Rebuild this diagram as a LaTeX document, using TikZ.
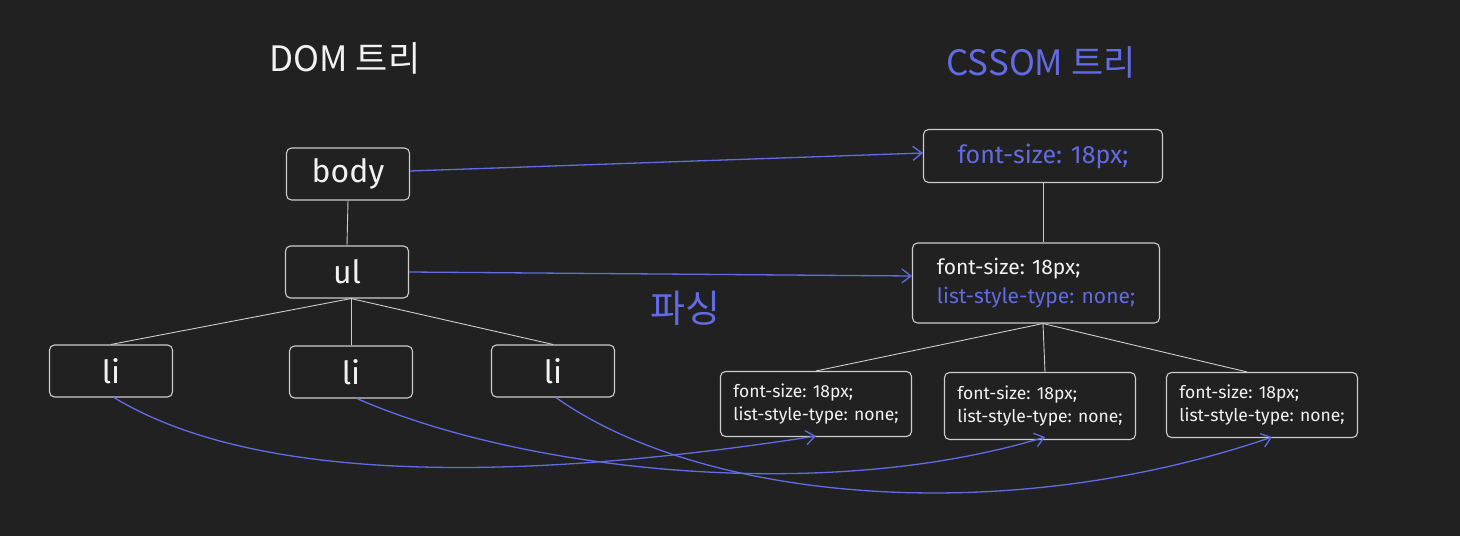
\documentclass[tikz,border=0pt]{standalone}
\usepackage{fontspec}
\setmainfont{Fira Sans}
\newfontfamily\kr{Noto Sans CJK KR}
\usetikzlibrary{arrows.meta}
\definecolor{bg}{RGB}{33,33,33}
\definecolor{ink}{RGB}{242,242,242}
\definecolor{edge}{RGB}{205,205,205}
\definecolor{accent}{RGB}{98,106,228}
\begin{document}
\begin{tikzpicture}[x=1pt,y=-1pt,
  box/.style={draw=edge, line width=1.1pt, rounded corners=5pt, fill=bg, inner sep=0pt, text=ink},
  domnode/.style={box, minimum width=123pt, minimum height=52pt, font=\fontsize{32}{34}\selectfont},
  cssmid/.style={box, align=left, font=\fontsize{21}{29}\selectfont},
  csssmall/.style={box, align=left, minimum width=191pt, minimum height=65pt, font=\fontsize{17.5}{23}\selectfont},
  tree/.style={draw=edge, line width=0.9pt},
  arr/.style={draw=accent, line width=1.3pt, -{Straight Barb[length=9pt,width=14pt]}},
  title/.style={font=\kr\fontsize{35}{37}\selectfont}
]
\useasboundingbox (0,0) rectangle (1460,536);
\fill[bg] (0,0) rectangle (1460,536);

% titles
\node[title, text=ink] (domt) at (345,58) {DOM 트리};
\node[title, text=accent] (csst) at (1041,62) {CSSOM 트리};
\node[font=\kr\fontsize{38}{40}\selectfont, text=accent] (parse) at (685,308) {파싱};

% DOM tree
\node[domnode] (body) at (348,174) {body};
\node[domnode] (ul) at (347,272) {ul};
\node[domnode] (li1) at (111,371) {li};
\node[domnode] (li2) at (351,372) {li};
\node[domnode] (li3) at (553,371) {li};

\draw[tree] (body.south) -- (ul.north);
\draw[tree] ([xshift=4pt]ul.south) -- (li1.north);
\draw[tree] ([xshift=4pt]ul.south) -- (li2.north);
\draw[tree] ([xshift=4pt]ul.south) -- (li3.north);

% CSSOM tree
\node[box, minimum width=239pt, minimum height=53pt, font=\fontsize{25}{27}\selectfont, text=accent] (css1) at (1043,156) {font-size: 18px;};
\node[cssmid, minimum width=247pt, minimum height=80pt] (css2) at (1036,283) {font-size: 18px;\\\textcolor{accent}{list-style-type: none;}};
\node[csssmall] (b1) at (816,404) {font-size: 18px;\\list-style-type: none;};
\node[csssmall, minimum height=67pt] (b2) at (1040,406) {font-size: 18px;\\list-style-type: none;};
\node[csssmall] (b3) at (1262,405) {font-size: 18px;\\list-style-type: none;};

\draw[tree] (css1.south) -- (css1.south |- css2.north);
\draw[tree] ([xshift=7pt]css2.south) -- (b1.north);
\draw[tree] ([xshift=7pt]css2.south) -- ([xshift=5pt]b2.north);
\draw[tree] ([xshift=7pt]css2.south) -- ([xshift=-15pt]b3.north);

% parsing arrows
\draw[arr] ([yshift=3pt]body.east) -- ([yshift=3pt]css1.west);
\draw[arr] (ul.east) -- ([yshift=7pt]css2.west);
\draw[arr] ([xshift=3pt]li1.south) .. controls (250,480) and (500,485) .. ([yshift=1pt]b1.south);
\draw[arr] ([xshift=6pt]li2.south) .. controls (520,470) and (820,505) .. ([xshift=5pt,yshift=3pt]b2.south);
\draw[arr] ([xshift=3pt]li3.south) .. controls (700,500) and (1000,530) .. ([xshift=10pt,yshift=1pt]b3.south);
\end{tikzpicture}
\end{document}
